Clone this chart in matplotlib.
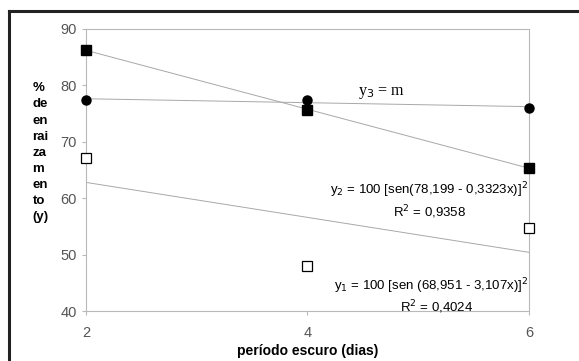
import numpy as np
import matplotlib
matplotlib.use("Agg")
import matplotlib.pyplot as plt
from matplotlib.lines import Line2D

plt.rcParams['font.family'] = ['Liberation Sans', 'DejaVu Sans']

# dark period (days)
dias = [2, 4, 6]
# % rooting
y1_vals = [67.1, 48.0, 54.7]   # open squares
y2_vals = [86.3, 75.6, 65.4]   # filled squares
y3_vals = [77.4, 77.4, 76.0]   # filled circles

xticks = [2, 4, 6]
yticks = [40, 50, 60, 70, 80, 90]

fig = plt.figure(figsize=(5.79, 3.61), dpi=100)
ax = fig.add_axes([0.1485, 0.1385, 0.7651, 0.7812])

# outer frame (only top/left visible in the reference)
fig.add_artist(Line2D([0.0155, 0.0155], [-0.01, 0.970], color='#222222', lw=2.2))
fig.add_artist(Line2D([0.0155, 1.01], [0.970, 0.970], color='#222222', lw=2.2))

xs = np.array(dias, dtype=float)
for vals in (y1_vals, y2_vals, y3_vals):
    k, b = np.polyfit(xs, vals, 1)
    ax.plot([xs[0], xs[-1]], [k * xs[0] + b, k * xs[-1] + b],
            color='#a8a8a8', lw=0.7, zorder=2)

ax.plot(dias, y3_vals, 'o', color='black', ms=6.5, ls='none', zorder=3, clip_on=False)
ax.plot(dias, y2_vals, 's', color='black', ms=7, ls='none', zorder=3, clip_on=False)
ax.plot(dias, y1_vals, 's', mfc='white', mec='black', mew=0.9, ms=7, ls='none',
        zorder=3, clip_on=False)

ax.set_xlim(2, 6)
ax.set_ylim(40, 90)
ax.set_xticks(xticks)
ax.set_yticks(yticks)
for s in ax.spines.values():
    s.set_color('#b8b8b8')
    s.set_linewidth(0.8)
ax.tick_params(colors='#b8b8b8', labelcolor='#555555', labelsize=10.5,
               length=3, width=0.8)
ax.tick_params(axis='x', pad=8)

ax.set_xlabel('período escuro (dias)', fontsize=10, fontweight='bold', labelpad=3)
fig.text(0.056, 0.772, '%\nde\nen\nrai\nza\nm\nen\nto\n(y)', fontsize=9.5,
         fontweight='bold', va='top', ha='left', linespacing=1.46)

ax.text(4.456, 78.65, 'y$_3$ = m', family='Liberation Serif', fontsize=11.5,
        ha='left', va='center')
ax.text(5.99, 61.4, 'y$_2$ = 100 [sen(78,199 - 0,3323x)]$^2$', fontsize=9.5,
        ha='right', va='center')
ax.text(5.10, 57.5, 'R$^2$ = 0,9358', fontsize=9.5, ha='center', va='center')
ax.text(5.99, 44.4, 'y$_1$ = 100 [sen (68,951 - 3,107x)]$^2$', fontsize=9.5,
        ha='right', va='center')
ax.text(5.17, 40.7, 'R$^2$ = 0,4024', fontsize=9.5, ha='center', va='center')

fig.savefig('out.png', dpi=100)
